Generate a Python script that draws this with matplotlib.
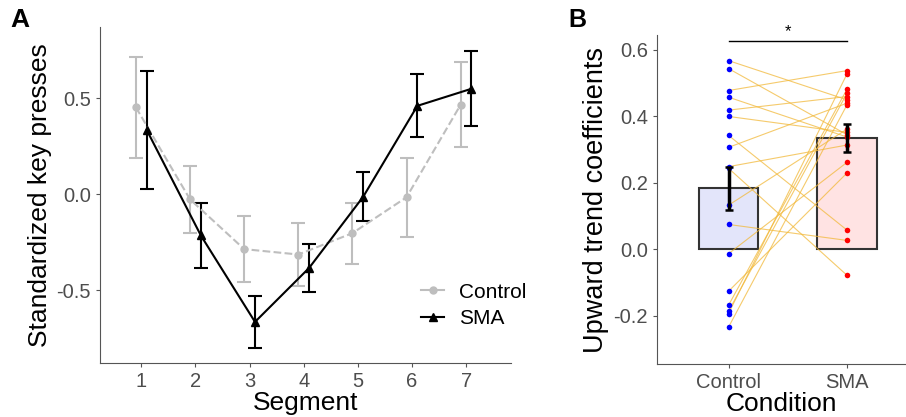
import numpy as np
import matplotlib
matplotlib.use("Agg")
import matplotlib.pyplot as plt
from matplotlib.lines import Line2D

plt.rcParams['font.family'] = ['Liberation Sans', 'DejaVu Sans']

# ---- panel A data (mean and standard error per segment)
segments = [1, 2, 3, 4, 5, 6, 7]
ctrl_mean = [0.452, -0.027, -0.286, -0.314, -0.203, -0.016, 0.466]
ctrl_se = [0.263, 0.174, 0.171, 0.165, 0.158, 0.206, 0.220]
sma_mean = [0.334, -0.215, -0.665, -0.384, -0.013, 0.460, 0.549]
sma_se = [0.305, 0.170, 0.137, 0.126, 0.129, 0.164, 0.195]

# ---- panel B data (paired subject coefficients)
conditions = ["Control", "SMA"]
ctrl_coef = [0.568, 0.544, 0.478, 0.458, 0.419, 0.400, 0.343, 0.307, 0.249,
             0.244, 0.133, 0.075, -0.013, -0.126, -0.168, -0.186, -0.193, -0.234]
sma_coef = [0.450, 0.345, 0.538, 0.338, 0.460, 0.352, 0.058, 0.440, 0.314,
            -0.078, 0.362, 0.027, 0.262, 0.230, 0.482, 0.470, 0.528, 0.435]
bar_mean = [0.184, 0.334]
bar_se = [0.065, 0.042]

tick_col = "#4D4D4D"
spine_col = "#555555"
ctrl_col = "#BEBEBE"

fig = plt.figure(figsize=(9.06, 4.17), dpi=100)

# ================= panel A
ax = fig.add_axes([0.110, 0.129, 0.454, 0.806])
x = np.array(segments)
dodge = 0.1
ax.errorbar(x - dodge, ctrl_mean, yerr=ctrl_se, color=ctrl_col, ls="--", lw=1.5,
            marker="o", ms=5, capsize=5, capthick=1.5, elinewidth=1.5)
ax.errorbar(x + dodge, sma_mean, yerr=sma_se, color="black", ls="-", lw=1.5,
            marker="^", ms=6, capsize=5, capthick=1.5, elinewidth=1.5)
ax.set_xlim(0.23, 7.83)
ax.set_ylim(-0.88, 0.87)
ax.set_xticks(segments)
ax.set_yticks([-0.5, 0.0, 0.5])
ax.set_yticklabels(["-0.5", "0.0", "0.5"])
ax.set_xlabel("Segment", fontsize=19, labelpad=0)
ax.set_ylabel("Standardized key presses", fontsize=19, labelpad=3)
for s in ["top", "right"]:
    ax.spines[s].set_visible(False)
for s in ["left", "bottom"]:
    ax.spines[s].set_color(spine_col)
ax.tick_params(colors=tick_col, labelsize=14.5, length=3, color=spine_col)

handles = [Line2D([], [], color=ctrl_col, ls="-", lw=1.5, marker="o", ms=5),
           Line2D([], [], color="black", ls="-", lw=1.5, marker="^", ms=6)]
fig.legend(handles, ["Control", "SMA"], loc="center left",
           bbox_to_anchor=(411 / 906, 0.268), frameon=False, borderpad=0,
           fontsize=15, handlelength=1.1, handletextpad=0.7, labelspacing=0.35)

# ================= panel B
bx = fig.add_axes([0.725, 0.127, 0.274, 0.789])
pos = np.array([1, 2])
bx.bar(pos, bar_mean, width=0.5, color=["#E3E5FA", "#FFE3E3"],
       edgecolor="#333333", linewidth=1.5, zorder=1)
for c, s in zip(ctrl_coef, sma_coef):
    bx.plot(pos, [c, s], color="#F2B93B", alpha=0.75, lw=0.8, zorder=2)
bx.scatter(np.full(len(ctrl_coef), 1), ctrl_coef, color="blue", s=16, zorder=3, lw=0)
bx.scatter(np.full(len(sma_coef), 2), sma_coef, color="red", s=16, zorder=3, lw=0)
bx.errorbar(pos, bar_mean, yerr=bar_se, fmt="none", ecolor="black", elinewidth=2.5,
            capsize=3, capthick=1.8, zorder=4)
bx.plot([1, 2], [0.627, 0.627], color="black", lw=1)
bx.text(1.5, 0.633, "*", ha="center", va="bottom", fontsize=12)
bx.set_xlim(0.395, 2.49)
bx.set_ylim(-0.345, 0.645)
bx.set_xticks(pos)
bx.set_xticklabels(conditions)
bx.set_yticks([-0.2, 0.0, 0.2, 0.4, 0.6])
bx.set_yticklabels(["-0.2", "0.0", "0.2", "0.4", "0.6"])
bx.set_xlabel("Condition", fontsize=19, labelpad=0)
bx.set_ylabel("Upward trend coefficients", fontsize=19.5, labelpad=3)
for s in ["top", "right"]:
    bx.spines[s].set_visible(False)
for s in ["left", "bottom"]:
    bx.spines[s].set_color(spine_col)
bx.tick_params(colors=tick_col, labelsize=14.5, length=3, color=spine_col)

fig.text(0.011, 0.935, "A", fontsize=19, fontweight="bold")
fig.text(0.627, 0.935, "B", fontsize=18, fontweight="bold")

fig.savefig("out.png", dpi=100)
